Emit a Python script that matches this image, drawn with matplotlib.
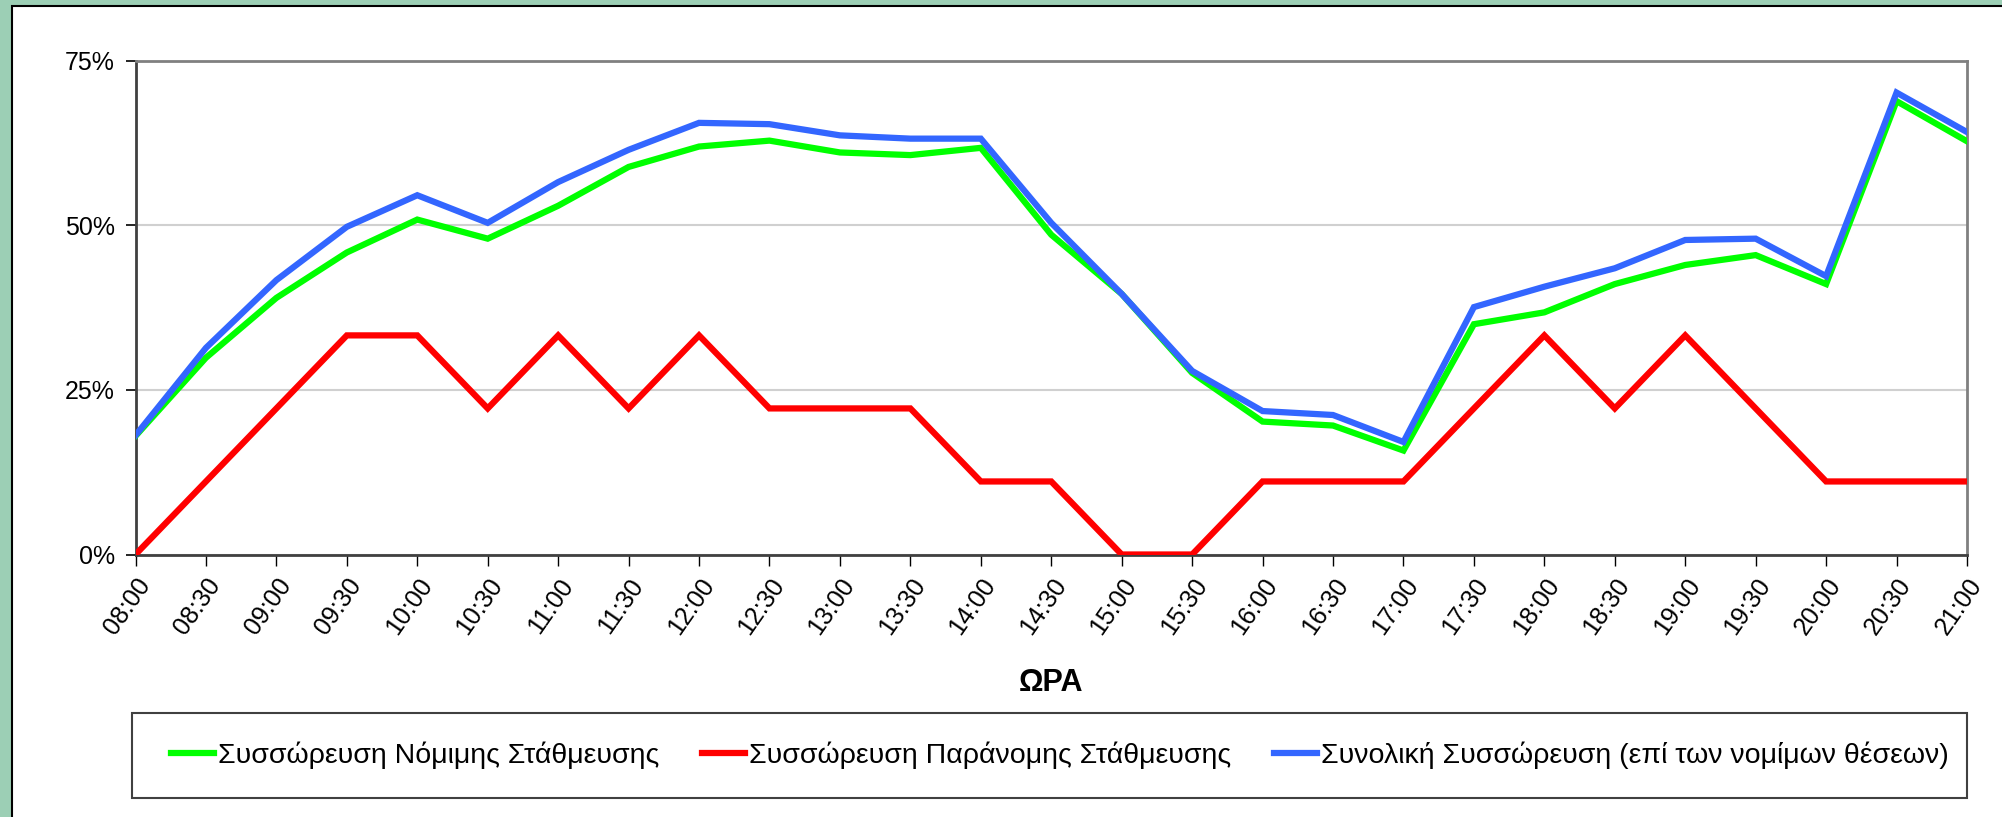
import matplotlib

matplotlib.use("Agg")
import matplotlib.pyplot as plt
from matplotlib.patches import Rectangle
from matplotlib.ticker import PercentFormatter

plt.rcParams["font.family"] = ["Liberation Sans", "DejaVu Sans"]

# ώρες μέτρησης
times = [
    "08:00", "08:30", "09:00", "09:30", "10:00", "10:30", "11:00", "11:30",
    "12:00", "12:30", "13:00", "13:30", "14:00", "14:30", "15:00", "15:30",
    "16:00", "16:30", "17:00", "17:30", "18:00", "18:30", "19:00", "19:30",
    "20:00", "20:30", "21:00",
]

# συσσώρευση νόμιμης στάθμευσης (%)
legal = [
    18.0, 29.9, 39.0, 45.9, 50.9, 48.0, 53.0, 58.9, 62.0, 62.9, 61.1, 60.7,
    61.8, 48.6, 39.6, 27.6, 20.2, 19.6, 15.8, 35.0, 36.8, 41.1, 44.0, 45.5,
    41.1, 68.9, 62.8,
]

# συσσώρευση παράνομης στάθμευσης (%)
illegal = [
    0.0, 11.1, 22.2, 33.3, 33.3, 22.2, 33.3, 22.2, 33.3, 22.2, 22.2, 22.2,
    11.1, 11.1, 0.0, 0.0, 11.1, 11.1, 11.1, 22.2, 33.3, 22.2, 33.3, 22.2,
    11.1, 11.1, 11.1,
]

# συνολική συσσώρευση (%)
total = [
    18.1, 31.4, 41.7, 49.8, 54.6, 50.4, 56.6, 61.5, 65.6, 65.4, 63.7, 63.2,
    63.2, 50.4, 39.6, 27.9, 21.8, 21.2, 17.1, 37.6, 40.7, 43.5, 47.8, 48.0,
    42.3, 70.2, 64.2,
]

labels = [
    "Συσσώρευση Νόμιμης Στάθμευσης",
    "Συσσώρευση Παράνομης Στάθμευσης",
    "Συνολική Συσσώρευση (επί των νομίμων θέσεων)",
]

W, H = 2002, 817
fig = plt.figure(figsize=(W / 100, H / 100), dpi=100)
fig.patch.set_facecolor("#9ccfb5")

# λευκό πλαίσιο
panel = Rectangle((12 / W, -0.01), 1 - 12 / W + 0.01, 1 - 6 / H + 0.01,
                  transform=fig.transFigure, facecolor="white",
                  edgecolor="black", linewidth=1.5, zorder=-10)
fig.patches.append(panel)

ax = fig.add_axes([135.5 / W, 1 - 554.5 / H, (1967 - 135.5) / W, (554.5 - 61) / H])
ax.set_zorder(1)
ax.set_facecolor("white")

x = list(range(len(times)))
lw = 4.5
l1, = ax.plot(x, legal, color="#00ff00", linewidth=lw, solid_joinstyle="miter", zorder=3)
l2, = ax.plot(x, illegal, color="#ff0000", linewidth=lw, solid_joinstyle="miter", zorder=3)
l3, = ax.plot(x, total, color="#3366ff", linewidth=lw, solid_joinstyle="miter", zorder=4)

ax.set_xlim(0, len(times) - 1)
ax.set_ylim(0, 75)
ax.set_yticks([0, 25, 50, 75])
ax.yaxis.set_major_formatter(PercentFormatter(decimals=0))
ax.set_xticks(x)
ax.set_xticklabels(times, rotation=55, ha="right", va="top", rotation_mode="anchor")
ax.tick_params(axis="y", direction="out", length=7, width=1.2, labelsize=18, pad=8)
ax.tick_params(axis="x", direction="out", length=8, width=1.0, labelsize=18, pad=6)

ax.grid(axis="y", color="#d0d0d0", linewidth=1.5)
ax.set_axisbelow(True)
for s in ["top", "right"]:
    ax.spines[s].set_color("#808080")
    ax.spines[s].set_linewidth(2)
for s in ["left", "bottom"]:
    ax.spines[s].set_color("#404040")
    ax.spines[s].set_linewidth(2)

fig.text(1051 / W, 1 - 683 / H, "ΩΡΑ", ha="center", va="center",
         fontsize=22, fontweight="bold")

# πλαίσιο υπομνήματος
box = Rectangle((132 / W, 1 - 798 / H), (1967 - 132) / W, (798 - 713) / H,
                transform=fig.transFigure, facecolor="none", edgecolor="#404040",
                linewidth=1.5)
fig.patches.append(box)

fig.legend([l1, l2, l3], labels, loc="center", ncol=3,
           bbox_to_anchor=(1060 / W, 1 - 755 / H), frameon=False,
           fontsize=20.5, handlelength=1.5, handletextpad=0.15, columnspacing=1.5)

fig.savefig("out.png", dpi=100, facecolor=fig.get_facecolor())
